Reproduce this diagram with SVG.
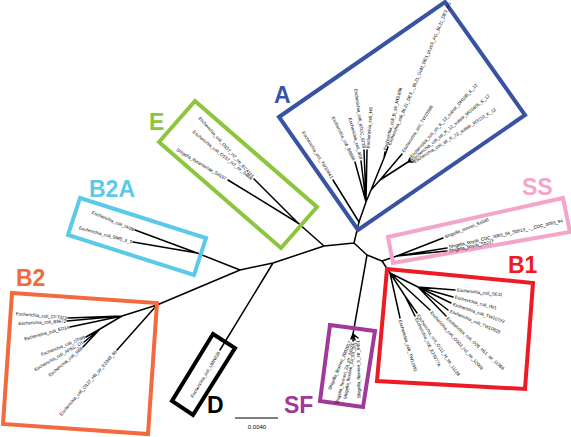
<svg xmlns="http://www.w3.org/2000/svg" width="571" height="437" viewBox="0 0 571 437">
<style>
.br{fill:none;stroke:#000;stroke-width:1.5;stroke-linecap:round;stroke-linejoin:round}
.box{fill:none;stroke-width:4;stroke-linejoin:miter}
.lab{font-family:"Liberation Sans",Arial,sans-serif;font-weight:bold;font-size:23px}
.tip{font-family:"Liberation Sans",Arial,sans-serif;font-size:4.5px;fill:#000}
.s{text-anchor:start}
.e{text-anchor:end}
</style>
<rect width="571" height="437" fill="#fff"/>
<g id="connectors">
<path class="br" d="M354,243L359,222M354,243L324,246M354,243L367,255M324,246L298,223M324,246L273,263L240,270M273,263L220,350M240,270L197,253M240,270L157,305M367,255L353,334M367,255L382,261L397,256M382,261L390,273"/>
<path class="br" d="M359,222L333,180M359,222L366,202L355,162M366,202L361,161M366,202L364,150M366,202L367,150M366,202L371,190L384,158L385,152M384,158L388,147M371,190L380,180L402,154M380,180L408,162L410,158M408,162L411,160M408,162L413,162"/>
<path class="br" d="M298,223L254,179M298,223L228,180"/>
<path class="br" d="M197,253L135,230M197,253L133,242"/>
<path class="br" d="M157,305L122,316L68,318M122,316L67,321M122,316L70,327M122,316L100,329L86,337M100,329L84,342M100,329L83,347M157,305L117,350"/>
<path class="br" d="M353,334L351,339M353,334L353,341M353,334L355,340M353,334L358,338"/>
<path class="br" d="M397,256L443,238M397,256L447,248M397,256L447,251"/>
<path class="br" d="M390,273L400,318M390,273L405,296L417,313M405,296L415,316M390,273L430,310M390,273L418,287L455,290M418,287L453,297M418,287L451,303M418,287L448,310M418,287L446,316"/>
<line x1="235" y1="418" x2="278" y2="418" stroke="#000" stroke-width="1.2"/>
<text x="257" y="429" font-family="Liberation Sans,Arial,sans-serif" font-size="6" text-anchor="middle">0.0040</text>
</g>
<g id="A">
<polygon class="box" stroke="#3953a4" points="279,117 445,2 525,115 358,230"/>
<text class="lab" x="274" y="103" fill="#3953a4">A</text>
<g class="tip">
<text class="e" transform="translate(332,178) rotate(58)" dy="1.5">Escherichia_coli_TW10641</text>
<text class="e" transform="translate(354,160) rotate(64)" dy="1.5">Escherichia_coli_B8888</text>
<text class="e" transform="translate(361,159) rotate(75)" dy="1.5">Escherichia_coli_908</text>
<text class="e" transform="translate(364,148) rotate(82)" dy="1.5">Escherichia_coli_ATCC_8739</text>
<text class="s" transform="translate(368,148) rotate(-86)" dy="1.5">Escherichia_coli_HS</text>
<text class="s" transform="translate(385,150) rotate(-76)" dy="1.5">Escherichia_coli_B_str_REL606</text>
<text class="s" transform="translate(389,145) rotate(-67)" dy="1.5">Escherichia_coli_BL21_DE3_,_BL21_Gold_DE3_pLysS_AG,_BL21_DE3_AG</text>
<text class="s" transform="translate(403,152) rotate(-58)" dy="1.5">Escherichia_coli_TW10598</text>
<text class="s" transform="translate(411,157) rotate(-48)" dy="1.5">Escherichia_coli_str_K_12_substr_DH10B_K_12</text>
<text class="s" transform="translate(412,160) rotate(-40)" dy="1.5">Escherichia_coli_str_K_12_substr_MG1655_K_12</text>
<text class="s" transform="translate(414,162) rotate(-33)" dy="1.5">Escherichia_coli_str_K_12_substr_W3110_K_12</text>
</g>
</g>
<g id="E">
<polygon class="box" stroke="#8cc63f" points="159,142 195,101 317,207 281,248"/>
<text class="lab" x="149" y="130" fill="#8cc63f">E</text>
<g class="tip">
<text class="e" transform="translate(253,177) rotate(48)" dy="1.5">Escherichia_coli_O157_H7_str_EC4115</text>
<text class="e" transform="translate(252,179) rotate(39)" dy="1.5">Escherichia_coli_O157_H7_str_Sakai</text>
<text class="e" transform="translate(226,179) rotate(31)" dy="1.5">Shigella_dysenteriae_Sd197</text>
</g>
</g>
<g id="B2A">
<polygon class="box" stroke="#5bc9e8" points="80,198 206,238 194,275 68,235"/>
<text class="lab" x="89" y="197" fill="#5bc9e8">B2A</text>
<g class="tip">
<text class="e" transform="translate(134,230) rotate(23)" dy="1.5">Escherichia_coli_IAI39</text>
<text class="e" transform="translate(132,242) rotate(15)" dy="1.5">Escherichia_coli_SMS_3_5</text>
</g>
</g>
<g id="B2">
<polygon class="box" stroke="#f26a3d" points="12,293 157,303 148,434 3,424"/>
<text class="lab" x="16" y="286" fill="#f26a3d">B2</text>
<g class="tip">
<text class="e" transform="translate(67,318) rotate(5)" dy="1.5">Escherichia_coli_CFT073</text>
<text class="e" transform="translate(66,321) rotate(-3)" dy="1.5">Escherichia_coli_83972</text>
<text class="e" transform="translate(69,327) rotate(-15)" dy="1.5">Escherichia_coli_ED1a</text>
<text class="e" transform="translate(85,337) rotate(-22)" dy="1.5">Escherichia_coli_UTI89</text>
<text class="e" transform="translate(83,342) rotate(-30)" dy="1.5">Escherichia_coli_APEC_O1</text>
<text class="e" transform="translate(82,348) rotate(-40)" dy="1.5">Escherichia_coli_S88</text>
<text class="e" transform="translate(116,351) rotate(-49)" dy="1.5">Escherichia_coli_O127_H6_str_E2348_69</text>
</g>
</g>
<g id="D">
<polygon class="box" stroke="#000" points="213,334 235,348 193,415 172,401"/>
<text class="lab" x="207" y="413" fill="#000">D</text>
<g class="tip">
<text class="e" transform="translate(219,352) rotate(-59)" dy="1.5">Escherichia_coli_UMN026</text>
</g>
</g>
<g id="SF">
<polygon class="box" stroke="#a0399a" points="330,325 375,331 363,407 320,401"/>
<text class="lab" x="284" y="413" fill="#a0399a">SF</text>
<g class="tip">
<text class="e" transform="translate(350,341) rotate(-67)" dy="1.5">Shigella_flexneri_2002017</text>
<text class="e" transform="translate(353,343) rotate(-75)" dy="1.5">Shigella_flexneri_2a_str_2457T</text>
<text class="e" transform="translate(355,342) rotate(-80)" dy="1.5">Shigella_flexneri_2a_str_301</text>
<text class="e" transform="translate(358,340) rotate(-91)" dy="1.5">Shigella_flexneri_5_str_8401</text>
</g>
</g>
<g id="SS">
<polygon class="box" stroke="#f5a5c9" points="388,237 563,198 570,232 393,263"/>
<text class="lab" x="522" y="195" fill="#f5a5c9">SS</text>
<g class="tip">
<text class="s" transform="translate(445,237) rotate(-22)" dy="1.5">Shigella_sonnei_Ss046</text>
<text class="s" transform="translate(449,247) rotate(-13)" dy="1.5">Shigella_boydii_CDC_3083_94_Sb513_..._CDC_3083_94</text>
<text class="s" transform="translate(449,251) rotate(-12)" dy="1.5">Shigella_boydii_Sb227</text>
</g>
</g>
<g id="B1">
<polygon class="box" stroke="#ed1c24" points="387,269 533,283 525,389 377,381"/>
<text class="lab" x="508" y="273" fill="#ed1c24">B1</text>
<g class="tip">
<text class="s" transform="translate(457,290) rotate(6)" dy="1.5">Escherichia_coli_SE11</text>
<text class="s" transform="translate(455,297) rotate(15)" dy="1.5">Escherichia_coli_IAI1</text>
<text class="s" transform="translate(453,304) rotate(19)" dy="1.5">Escherichia_coli_TW10722</text>
<text class="s" transform="translate(450,311) rotate(23)" dy="1.5">Escherichia_coli_TW10828</text>
<text class="s" transform="translate(447,318) rotate(42)" dy="1.5">Escherichia_coli_O26_H11_str_11368</text>
<text class="s" transform="translate(431,312) rotate(48)" dy="1.5">Escherichia_coli_O103_H2_str_12009</text>
<text class="s" transform="translate(418,315) rotate(56)" dy="1.5">Escherichia_coli_O111_H_str_11128</text>
<text class="s" transform="translate(416,318) rotate(64)" dy="1.5">Escherichia_coli_E24377A</text>
<text class="s" transform="translate(400,320) rotate(73)" dy="1.5">Escherichia_coli_TW11681</text>
</g>
</g>
</svg>
